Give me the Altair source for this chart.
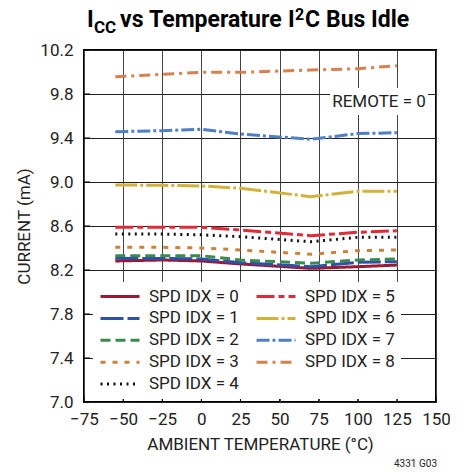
import altair as alt
import pandas as pd

# ---- data ----
temps = [-55, -25, 0, 25, 70, 100, 125]
idx0 = [8.282, 8.291, 8.282, 8.255, 8.215, 8.230, 8.245]
idx1 = [8.306, 8.305, 8.300, 8.267, 8.230, 8.270, 8.276]
idx2 = [8.330, 8.330, 8.330, 8.291, 8.261, 8.291, 8.300]
idx3 = [8.406, 8.406, 8.400, 8.382, 8.343, 8.376, 8.382]
idx4 = [8.527, 8.527, 8.520, 8.503, 8.457, 8.497, 8.497]
idx5 = [8.588, 8.588, 8.588, 8.564, 8.512, 8.543, 8.557]
idx6 = [8.973, 8.970, 8.964, 8.943, 8.867, 8.915, 8.915]
idx7 = [9.457, 9.467, 9.479, 9.436, 9.388, 9.440, 9.448]
idx8 = [9.957, 9.979, 9.997, 9.997, 10.018, 10.030, 10.057]

series_labels = [f"SPD IDX = {i}" for i in range(9)]
series_values = [idx0, idx1, idx2, idx3, idx4, idx5, idx6, idx7, idx8]
series_colors = ["#9E1830", "#2F4FA8", "#3A8A4E", "#C8843A", "#111111",
                 "#E02A38", "#D2B23A", "#4F7FC4", "#D9804F"]
series_dash = [[1, 0], [23, 4], [10, 5], [5, 7], [2, 4.5],
               [18, 4, 6, 4], [22, 3, 3, 3], [13, 3, 3, 3], [11, 5, 3, 5]]

x_ticks = [-75, -50, -25, 0, 25, 50, 75, 100, 125, 150]
y_ticks = [7.0, 7.4, 7.8, 8.2, 8.6, 9.0, 9.4, 9.8, 10.2]

FONT = "Roboto"

rows = []
for lab, vals in zip(series_labels, series_values):
    for t, v in zip(temps, vals):
        rows.append({"temp": t, "current": v, "series": lab})
df = pd.DataFrame(rows)

xsc = alt.Scale(domain=[-75, 150], nice=False, zero=False)
ysc = alt.Scale(domain=[7.0, 10.2], nice=False, zero=False)

W, H = 352, 352

x_axis = alt.Axis(
    values=x_ticks, title="AMBIENT TEMPERATURE (°C)", grid=True,
    gridColor="#444444", gridWidth=1, gridOpacity=1, ticks=False, domain=False,
    labelOverlap=False, labelFlush=False, labelBound=False, labelSeparation=0,
    labelFont=FONT, labelFontSize=17, labelColor="#222", labelPadding=9,
    titleFont=FONT, titleFontSize=17, titleFontWeight="normal", titleColor="#222",
    titlePadding=9)
y_axis = alt.Axis(
    values=y_ticks, format=".1f", title="CURRENT (mA)", grid=True,
    gridColor="#222222", gridWidth=1, gridOpacity=1, ticks=False, domain=False,
    labelOverlap=False, labelFlush=False,
    labelFont=FONT, labelFontSize=17, labelColor="#222", labelPadding=11,
    titleFont=FONT, titleFontSize=17, titleFontWeight="normal", titleColor="#222",
    titlePadding=6)

leg = dict(title=None, orient="none", legendX=9, legendY=232,
           columns=2, fillColor="white", padding=6,
           symbolType="stroke", symbolSize=1520, symbolStrokeWidth=3,
           clipHeight=17, rowPadding=3.9, columnPadding=16,
           labelFont=FONT, labelFontSize=17, labelColor="#222",
           labelOffset=8, labelLimit=200)

lines = alt.Chart(df).mark_line(strokeWidth=3, clip=True).encode(
    x=alt.X("temp:Q", scale=xsc, axis=x_axis),
    y=alt.Y("current:Q", scale=ysc, axis=y_axis),
    color=alt.Color("series:N", scale=alt.Scale(domain=series_labels, range=series_colors),
                    legend=alt.Legend(**leg)),
    strokeDash=alt.StrokeDash("series:N", scale=alt.Scale(domain=series_labels, range=series_dash),
                              legend=alt.Legend(**leg)),
    detail="series:N",
    order=alt.Order("temp:Q"),
)

# inside ticks
xt = alt.Chart(pd.DataFrame({"t": x_ticks})).mark_rule(color="black", strokeWidth=1).encode(
    x=alt.X("t:Q", scale=xsc, axis=x_axis), y=alt.value(H), y2=alt.value(H - 6))
yt = alt.Chart(pd.DataFrame({"v": y_ticks})).mark_rule(color="black", strokeWidth=1).encode(
    y=alt.Y("v:Q", scale=ysc, axis=y_axis), x=alt.value(0), x2=alt.value(6))

one = pd.DataFrame({"a": [0]})

remote_bg = alt.Chart(one).mark_rect(color="white").encode(
    x=alt.value(246), x2=alt.value(344), y=alt.value(38), y2=alt.value(65))
remote_txt = alt.Chart(one).mark_text(
    text="REMOTE = 0", font=FONT, fontSize=17, color="#222", align="center", baseline="middle"
).encode(x=alt.value(295), y=alt.value(52))


def txt(s, x, y, size, weight="bold", align="left", color="black"):
    return alt.Chart(one).mark_text(text=s, font=FONT, fontSize=size, fontWeight=weight,
                                    color=color, align=align, baseline="alphabetic"
                                    ).encode(x=alt.value(x), y=alt.value(y))


title_parts = [
    txt("I", 3, -23.3, 23),
    txt("CC", 10, -17.3, 17),
    txt("vs", 36, -23.3, 23),
    txt("Temperature", 65, -23.3, 23),
    txt("I", 204, -23.3, 23),
    txt("2", 211, -30, 16),
    txt("C", 221, -23.3, 23),
    txt("Bus", 242, -23.3, 23),
    txt("Idle", 287, -23.3, 23),
]
code = txt("4331 G03", 353, 417, 10, weight="normal", align="right", color="#222")

chart = alt.layer(lines, xt, yt, remote_bg, remote_txt, *title_parts, code).properties(
    width=W, height=H,
    background="white",
    autosize=alt.AutoSizeParams(type="none"),
    padding={"left": 76, "top": 42, "right": 14, "bottom": 70},
).configure_view(stroke="black", strokeWidth=2)

chart.save("out.html", embed_options={"renderer": "svg", "actions": False})
